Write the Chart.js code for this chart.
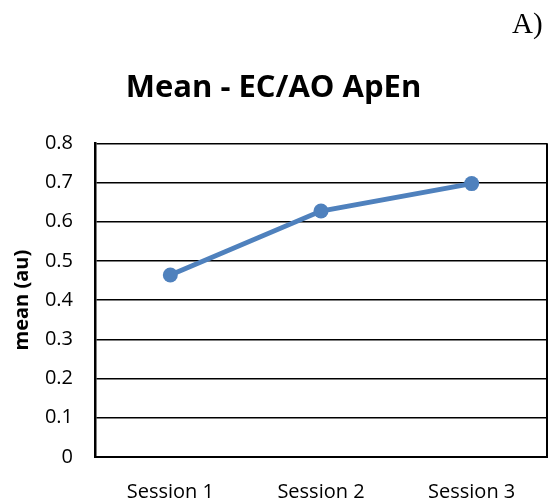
<!DOCTYPE html>
<html>
<head>
<meta charset="utf-8">
<script src="https://cdn.jsdelivr.net/npm/chart.js@4"></script>
<style>
  html, body { margin: 0; padding: 0; background: #fff; }
  #wrap { position: relative; width: 550px; height: 502px; }
  #tag { position: absolute; left: 512px; top: 7px; font-family: "Liberation Serif", serif; font-size: 29px; line-height: 1.15; color: #000; }
</style>
</head>
<body>
<div id="wrap">
  <canvas id="c" width="550" height="502"></canvas>
  <div id="tag">A)</div>
</div>
<script>
const sessions = ['Session 1', 'Session 2', 'Session 3'];
const meanApEn = [0.464, 0.627, 0.697];
const yMin = 0, yMax = 0.8, yStep = 0.1;

// closes the plot box on the right-hand side
const rightEdge = {
  id: 'rightEdge',
  afterDraw(chart) {
    const { ctx, chartArea: a } = chart;
    ctx.save();
    ctx.strokeStyle = '#000';
    ctx.lineWidth = 2;
    ctx.beginPath();
    ctx.moveTo(a.right, a.top);
    ctx.lineTo(a.right, a.bottom + 1);
    ctx.stroke();
    ctx.restore();
  }
};

new Chart(document.getElementById('c'), {
  type: 'line',
  data: {
    labels: sessions,
    datasets: [{
      data: meanApEn,
      borderColor: '#4f81bd',
      backgroundColor: '#4f81bd',
      borderWidth: 5,
      pointRadius: 7.5,
      pointHoverRadius: 7.5,
      pointBorderWidth: 0,
      tension: 0
    }]
  },
  options: {
    responsive: false,
    animation: false,
    layout: { autoPadding: false, padding: { top: 70, right: 3, bottom: 0, left: 0 } },
    plugins: {
      legend: { display: false },
      tooltip: { enabled: false },
      title: {
        display: true,
        text: 'Mean - EC/AO ApEn',
        color: '#000',
        font: { family: '"Open Sans", sans-serif', size: 31, weight: 'bold' },
        padding: { top: 0, bottom: 36 }
      }
    },
    scales: {
      x: {
        offset: true,
        grid: { display: false },
        border: { color: '#000', width: 2 },
        ticks: {
          color: '#000',
          padding: 15,
          font: { family: '"Open Sans", sans-serif', size: 20 }
        },
        afterFit(s) { s.height = 45; s.paddingLeft = 0; s.paddingRight = 0; }
      },
      y: {
        min: yMin,
        max: yMax,
        ticks: {
          stepSize: yStep,
          color: '#000',
          padding: 22,
          font: { family: '"Open Sans", sans-serif', size: 20 },
          callback: v => v === 0 ? '0' : v.toFixed(1)
        },
        grid: { color: '#000', lineWidth: 1.4, drawTicks: false },
        border: { color: '#000', width: 2.5 },
        title: {
          display: true,
          text: 'mean (au)',
          color: '#000',
          font: { family: '"Open Sans", sans-serif', size: 20, weight: 'bold' },
          padding: { top: 10, bottom: 0 }
        },
        afterFit(s) { s.width = 95; }
      }
    }
  },
  plugins: [rightEdge]
});
</script>
</body>
</html>
